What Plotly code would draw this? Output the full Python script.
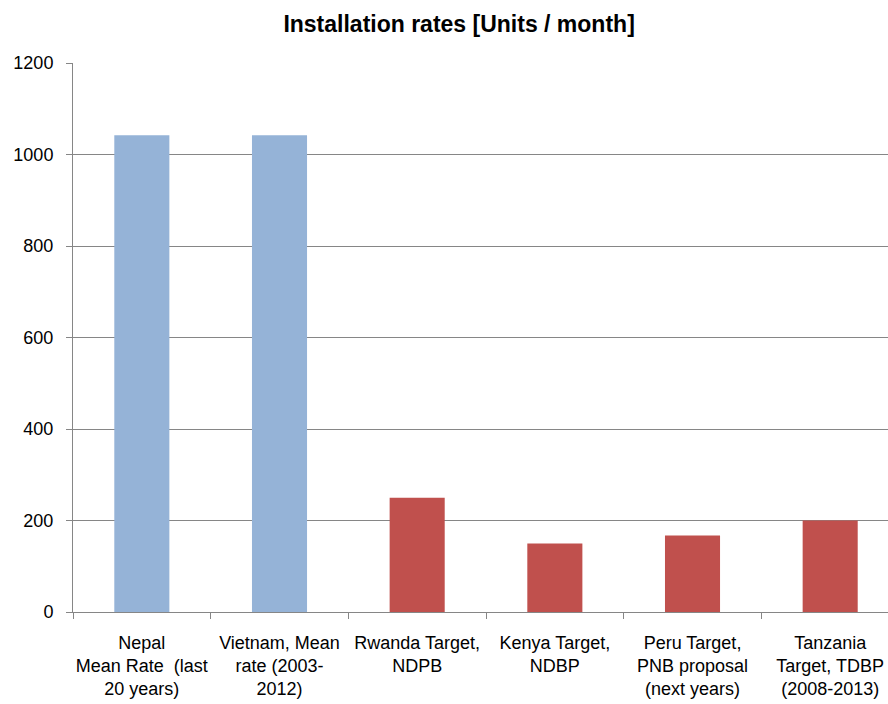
import plotly.graph_objects as go

categories = [
    "Nepal<br>Mean Rate  (last<br>20 years)",
    "Vietnam, Mean<br>rate (2003-<br>2012)",
    "Rwanda Target,<br>NDPB",
    "Kenya Target,<br>NDBP",
    "Peru Target,<br>PNB proposal<br>(next years)",
    "Tanzania<br>Target, TDBP<br>(2008-2013)",
]
values = [1042, 1042, 250, 150, 167, 200]
colors = ["#95B3D7", "#95B3D7", "#C0504D", "#C0504D", "#C0504D", "#C0504D"]
y_ticks = [0, 200, 400, 600, 800, 1000, 1200]

FONT = "Liberation Sans, Arial"

fig = go.Figure(go.Bar(x=categories, y=values, marker=dict(color=colors, line=dict(width=0))))

fig.update_layout(
    width=888, height=704,
    margin=dict(l=73, r=0, t=63, b=92),
    paper_bgcolor="white", plot_bgcolor="white",
    bargap=0.6,
    showlegend=False,
    font=dict(family=FONT, size=18, color="#000000"),
    title=dict(text="<b>Installation rates [Units / month]</b>", x=0.517, xanchor="center",
               y=0.966, yanchor="middle", font=dict(family=FONT, size=23, color="#000000")),
)
fig.update_xaxes(
    range=[-0.5, 5.42], tickson="boundaries", ticks="outside", ticklen=6,
    tickcolor="#868686", showline=True, linecolor="#868686", linewidth=1,
    showgrid=False, ticklabelstandoff=14, tickfont=dict(size=18),
    tickangle=0, automargin=False,
)
fig.update_yaxes(
    range=[0, 1200], tickvals=y_ticks, ticks="outside", ticklen=6, tickcolor="#868686",
    showline=True, linecolor="#868686", linewidth=1, showgrid=True, gridcolor="#868686",
    gridwidth=1, zeroline=False, ticklabelstandoff=9, tickfont=dict(size=18),
    automargin=False,
)

fig.write_html("out.html", config={"displayModeBar": False},
               post_script="document.body.style.margin='0';")
